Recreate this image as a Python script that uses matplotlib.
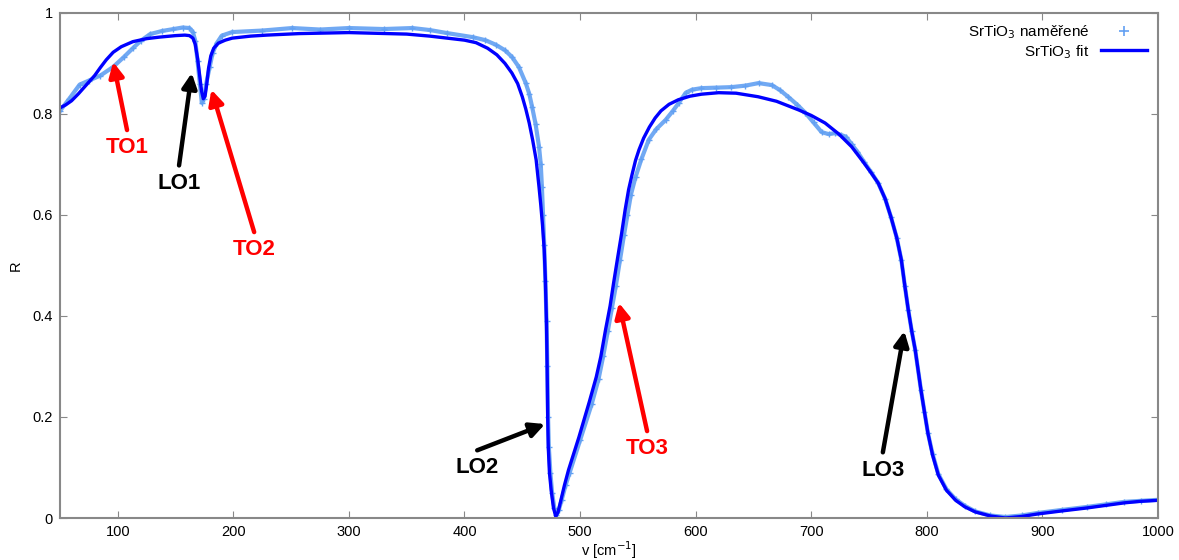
import matplotlib
matplotlib.use('Agg')
import matplotlib.pyplot as plt
from matplotlib.lines import Line2D

plt.rcParams['font.family'] = ['Liberation Sans', 'DejaVu Sans']

# fit curve
fit_v = [50, 55, 60, 66, 73, 80, 85, 90, 96, 103, 113, 125, 136, 150, 158, 162, 165,
         167, 169, 171, 172.5, 174, 175.5, 177, 178.5, 180.5, 183, 187, 193, 199, 215,
         229, 257, 300, 350, 370, 385, 400, 410, 420, 428, 435, 441, 446, 450, 453, 456,
         459, 462, 464.5, 466, 467.5, 469, 470, 471, 471.5, 472, 472.5, 473.5, 475, 477,
         479, 481, 483.5, 486.5, 490, 499, 508, 514, 518, 522, 526, 529, 532.5, 536,
         539, 542, 545, 548, 551, 555, 560, 565, 570, 577, 585, 595, 605, 620, 635, 654,
         670, 689, 700, 712, 724, 735, 745, 752, 758, 764, 769, 774, 778, 781, 784, 787,
         790, 795, 798, 801, 805, 810, 817, 825, 833, 842, 855, 868, 882, 896, 917, 939,
         955, 971, 985, 1000]
fit_r = [0.812, 0.818, 0.826, 0.840, 0.858, 0.876, 0.892, 0.907, 0.922, 0.933, 0.943,
         0.949, 0.952, 0.955, 0.956, 0.955, 0.950, 0.938, 0.910, 0.873, 0.845, 0.830,
         0.835, 0.860, 0.890, 0.915, 0.930, 0.940, 0.946, 0.950, 0.954, 0.956, 0.959,
         0.961, 0.958, 0.954, 0.950, 0.946, 0.941, 0.930, 0.917, 0.900, 0.881, 0.860,
         0.834, 0.810, 0.782, 0.748, 0.709, 0.655, 0.620, 0.580, 0.531, 0.470, 0.380,
         0.300, 0.200, 0.140, 0.090, 0.055, 0.020, 0.003, 0.012, 0.036, 0.065, 0.095,
         0.160, 0.230, 0.279, 0.320, 0.372, 0.420, 0.465, 0.515, 0.564, 0.610, 0.650,
         0.680, 0.708, 0.729, 0.752, 0.774, 0.792, 0.806, 0.819, 0.828, 0.835, 0.839,
         0.842, 0.841, 0.834, 0.825, 0.808, 0.797, 0.782, 0.760, 0.735, 0.705, 0.683,
         0.663, 0.632, 0.596, 0.555, 0.511, 0.460, 0.412, 0.370, 0.333, 0.253, 0.210,
         0.168, 0.125, 0.085, 0.055, 0.035, 0.022, 0.012, 0.004, 0.000, 0.003, 0.008,
         0.014, 0.020, 0.025, 0.030, 0.033, 0.035]

# measured data
meas_v = [50, 58, 67, 75, 85, 96, 105, 113, 120, 128, 138, 148, 156, 162, 165, 167, 169,
          171, 172.7, 174.5, 176.5, 179.5, 182, 185.6, 190, 199, 225, 251, 275, 300, 330,
          355, 370, 385, 407, 418, 427, 435, 441, 447, 453, 456, 458.5, 461.5, 464.5, 466,
          467, 468, 469, 470, 471, 471.7, 472.3, 473, 474.3, 475.8, 477.7, 479.5, 481.5,
          484, 487.5, 491, 500, 510, 516, 520, 524, 527.5, 531, 534.5, 538, 541, 544, 548,
          553, 559.5, 566, 574, 580, 585.5, 591.5, 597, 605, 618, 631, 643, 654.5, 666,
          673, 680, 688, 695, 702, 709, 715, 721, 726, 730, 735, 740, 746, 752, 758, 764,
          769, 774, 778, 781, 784, 787, 790, 795, 798, 801, 805, 810, 817, 825, 833, 842,
          855, 868, 882, 896, 917, 939, 955, 971, 985, 1000]
meas_r = [0.806, 0.830, 0.858, 0.866, 0.876, 0.893, 0.912, 0.930, 0.945, 0.958, 0.964,
          0.968, 0.971, 0.970, 0.962, 0.945, 0.905, 0.860, 0.822, 0.830, 0.860, 0.893,
          0.920, 0.940, 0.955, 0.962, 0.965, 0.970, 0.967, 0.970, 0.968, 0.970, 0.966,
          0.960, 0.952, 0.946, 0.937, 0.926, 0.913, 0.893, 0.861, 0.840, 0.814, 0.780,
          0.735, 0.700, 0.655, 0.600, 0.540, 0.470, 0.390, 0.300, 0.200, 0.140, 0.090,
          0.050, 0.020, 0.005, 0.015, 0.035, 0.065, 0.090, 0.155, 0.225, 0.275, 0.320,
          0.370, 0.415, 0.460, 0.510, 0.560, 0.600, 0.640, 0.675, 0.710, 0.749, 0.770,
          0.788, 0.805, 0.822, 0.842, 0.848, 0.851, 0.852, 0.853, 0.856, 0.861, 0.857,
          0.847, 0.834, 0.818, 0.802, 0.783, 0.764, 0.760, 0.762, 0.758, 0.755, 0.740,
          0.725, 0.704, 0.684, 0.663, 0.632, 0.596, 0.555, 0.511, 0.460, 0.412, 0.370,
          0.333, 0.253, 0.210, 0.168, 0.127, 0.087, 0.057, 0.037, 0.024, 0.013, 0.005,
          0.002, 0.005, 0.010, 0.016, 0.022, 0.027, 0.032, 0.034, 0.036]

# labels: (text, colour, text position, arrow tip)
labels = [
    ('TO1', 'red', (108, 0.733), (96, 0.903)),
    ('LO1', 'black', (153, 0.663), (164, 0.881)),
    ('TO2', 'red', (218, 0.531), (181, 0.848)),
    ('LO2', 'black', (411, 0.099), (469.7, 0.186)),
    ('TO3', 'red', (558, 0.137), (533.6, 0.426)),
    ('LO3', 'black', (762, 0.095), (780.6, 0.370)),
]

meas_color = '#62a0f2'
fit_color = '#0000ff'
axis_color = '#888888'

fig = plt.figure(figsize=(11.79, 5.60), dpi=100)
ax = fig.add_axes([0.0509, 0.075, 0.9312, 0.902])

ax.plot(meas_v, meas_r, color=meas_color, lw=3, alpha=0.9, solid_joinstyle='round')
ax.plot(meas_v, meas_r, '+', color=meas_color, ms=4, mew=1)
ax.plot(fit_v, fit_r, color=fit_color, lw=2.4, solid_joinstyle='round')

for text, col, pos, tip in labels:
    ax.annotate('', xy=tip, xytext=(pos[0], pos[1] + 0.035),
                arrowprops=dict(arrowstyle='-|>', color=col, lw=3.2,
                                mutation_scale=22, shrinkA=0, shrinkB=0))
    ax.text(pos[0], pos[1], text, color=col, fontsize=16, fontweight='bold',
            ha='center', va='center')

ax.set_xlim(50, 1000)
ax.set_ylim(0, 1)
ax.set_xticks(range(100, 1001, 100))
ax.set_yticks([0, 0.2, 0.4, 0.6, 0.8, 1])
ax.set_yticklabels(['0', '0.2', '0.4', '0.6', '0.8', '1'])
ax.tick_params(direction='in', length=5, color=axis_color, labelsize=10.5,
               top=True, right=True, pad=5)
for s in ax.spines.values():
    s.set_color(axis_color)
    s.set_linewidth(1.5)

ax.set_xlabel('v [cm$^{-1}$]', fontsize=10.5, labelpad=0)
ax.set_ylabel('R', fontsize=10.5, labelpad=7)

handles = [Line2D([], [], ls='none', marker='+', color=meas_color, ms=7, mew=1.2),
           Line2D([], [], color=fit_color, lw=2.4)]
ax.legend(handles, ['SrTiO$_3$ naměřené', 'SrTiO$_3$ fit'], loc='upper right',
          frameon=False, markerfirst=False, fontsize=11, handlelength=3,
          borderaxespad=0.3, labelspacing=0.1)
for t in ax.get_legend().get_texts():
    t.set_ha('right')

fig.savefig('out.png', dpi=100)
